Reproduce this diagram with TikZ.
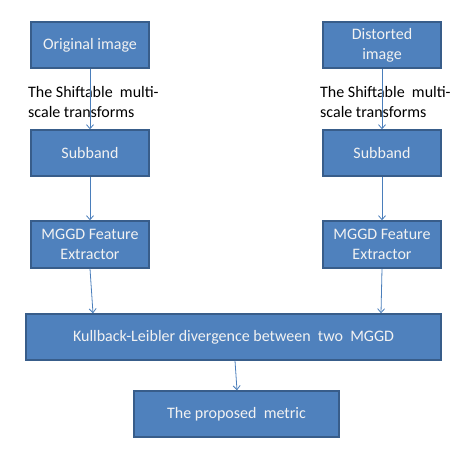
\documentclass[tikz,border=0pt]{standalone}
\usepackage{fontspec}
\setmainfont{Carlito}
\usetikzlibrary{arrows.meta}
\definecolor{boxfill}{HTML}{4F81BD}
\definecolor{boxline}{HTML}{385D8A}
\definecolor{arrowc}{HTML}{4A7EBB}
\definecolor{boxtext}{HTML}{F2F2F2}
\tikzset{
  blk/.style={draw=boxline, line width=1.5pt, fill=boxfill, text=boxtext, align=center, font=\fontsize{16}{20}\selectfont, inner sep=0pt},
  conn/.style={draw=arrowc, line width=0.8pt, -{Straight Barb[length=4pt,width=7pt,line width=0.8pt]}},
  lbl/.style={font=\fontsize{16}{20}\selectfont, align=left, anchor=north west, inner sep=0pt}
}
\begin{document}
\begin{tikzpicture}[x=1pt,y=-1pt]
\useasboundingbox (0,0) rectangle (460,453);
\node[blk, minimum width=118pt, minimum height=46pt] (orig) at (90,45) {Original image};
\node[blk, minimum width=118pt, minimum height=46pt] (dist) at (382,45) {Distorted\\image};
\node[blk, minimum width=118pt, minimum height=46pt] (subL) at (90,153) {Subband};
\node[blk, minimum width=118pt, minimum height=46pt] (subR) at (382,153) {Subband};
\node[blk, minimum width=118pt, minimum height=47pt] (mgL) at (90,244.5) {MGGD Feature\\Extractor};
\node[blk, minimum width=118pt, minimum height=47pt] (mgR) at (382,244.5) {MGGD Feature\\Extractor};
\node[blk, minimum width=415pt, minimum height=46pt] (kl) at (233.5,337) {Kullback-Leibler divergence between\ \ two\ \ MGGD};
\node[blk, minimum width=205pt, minimum height=46pt] (prop) at (236.5,414) {The proposed\ \ metric};
\node[lbl] (tL) at (28,86.5) {The Shiftable\ \ multi-\\scale transforms};
\node[lbl] (tR) at (320,86.5) {The Shiftable\ \ multi-\\scale transforms};
\draw[conn] (orig.south) -- (subL.north);
\draw[conn] (dist.south) -- (subR.north);
\draw[conn] (subL.south) -- (mgL.north);
\draw[conn] (subR.south) -- (mgR.north);
\draw[conn] (mgL.south) -- (kl.north -| 93,0);
\draw[conn] (mgR.south) -- (kl.north -| 381,0);
\draw[conn] (kl.south -| 235,0) -- (prop.north -| 237,0);
\end{tikzpicture}
\end{document}
